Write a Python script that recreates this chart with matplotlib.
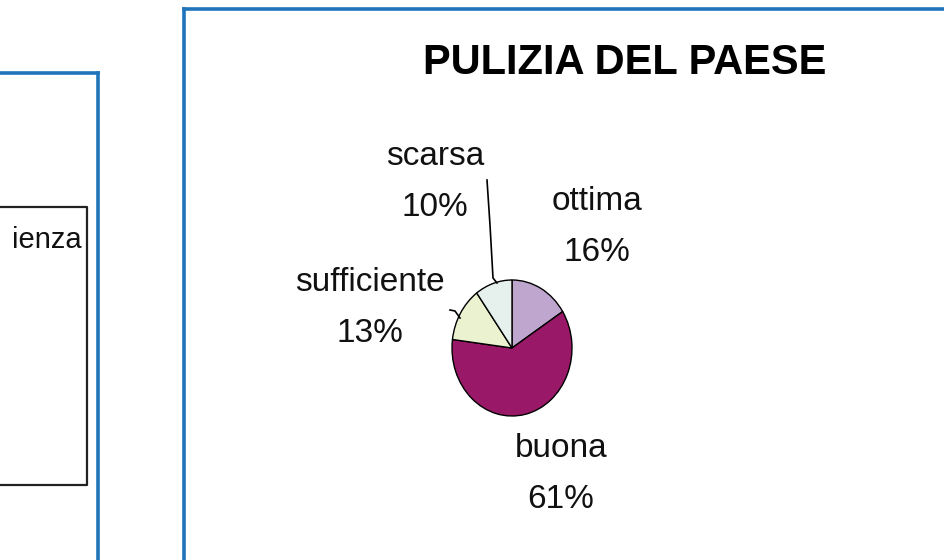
import matplotlib
matplotlib.use("Agg")
import matplotlib.pyplot as plt
from matplotlib.lines import Line2D

W, H = 945, 560

labels = ["ottima", "buona", "sufficiente", "scarsa"]
values = [16, 61, 13, 10]
colors = ["#BFA6CF", "#9A1868", "#EBF2CF", "#E6F0EC"]
title = "PULIZIA DEL PAESE"

fonts = ["Liberation Sans", "DejaVu Sans"]

fig = plt.figure(figsize=(W / 100, H / 100), dpi=100)


def px(x, y):
    # image pixel coords (top-left origin) -> figure fraction
    return x / W, 1 - y / H


# chart frames (blue borders)
blue = "#1F74BA"
fig.add_artist(Line2D([184 / W, 184 / W], [0, 1 - 9 / H], color=blue, lw=2.6))
fig.add_artist(Line2D([184 / W, 1], [1 - 9 / H, 1 - 9 / H], color=blue, lw=2.6))
fig.add_artist(Line2D([0, 98 / W], [1 - 73 / H, 1 - 73 / H], color=blue, lw=2.6))
fig.add_artist(Line2D([98 / W, 98 / W], [0, 1 - 73 / H], color=blue, lw=2.6))

# legend box from the neighbouring chart
lx0, lx1 = 0, 87 / W
ly0, ly1 = 1 - 485 / H, 1 - 207 / H
fig.add_artist(Line2D([lx0, lx1, lx1, lx0], [ly1, ly1, ly0, ly0], color="#222222", lw=1.6))
fig.text(*px(82, 240), "ienza", ha="right", va="center", fontsize=21, family=fonts, color="#111111")

# title
fig.text(*px(625, 63), title, ha="center", va="center", fontsize=30, fontweight="bold",
         family=fonts, color="black")

# pie as an ellipse (taller than wide)
cx, cy, rx, ry = 512, 348, 60, 68
ax = fig.add_axes([(cx - rx) / W, 1 - (cy + ry) / H, 2 * rx / W, 2 * ry / H])
ax.pie(values, colors=colors, startangle=90, counterclock=False,
       wedgeprops=dict(edgecolor="black", linewidth=1.0))
ax.set_xlim(-1, 1)
ax.set_ylim(-1, 1)
ax.set_aspect("auto")
ax.axis("off")

# data labels
lab_pos = {
    "ottima": (597, 227),
    "buona": (561, 474),
    "sufficiente": (370, 308),
    "scarsa": (435, 182),
}
for name, v in zip(labels, values):
    x, y = lab_pos[name]
    fig.text(*px(x, y), f"{name}\n{v}%", ha="center", va="center", fontsize=24,
             family=fonts, color="#111111", linespacing=1.8)

# leader lines
xs, ys = zip(*[px(487, 180), px(490, 225), px(493, 278), px(497, 283)])
fig.add_artist(Line2D(xs, ys, color="black", lw=1.2))
xs, ys = zip(*[px(450, 310), px(455, 311), px(460, 318)])
fig.add_artist(Line2D(xs, ys, color="black", lw=1.2))

fig.savefig("out.png", dpi=100, facecolor="white")
